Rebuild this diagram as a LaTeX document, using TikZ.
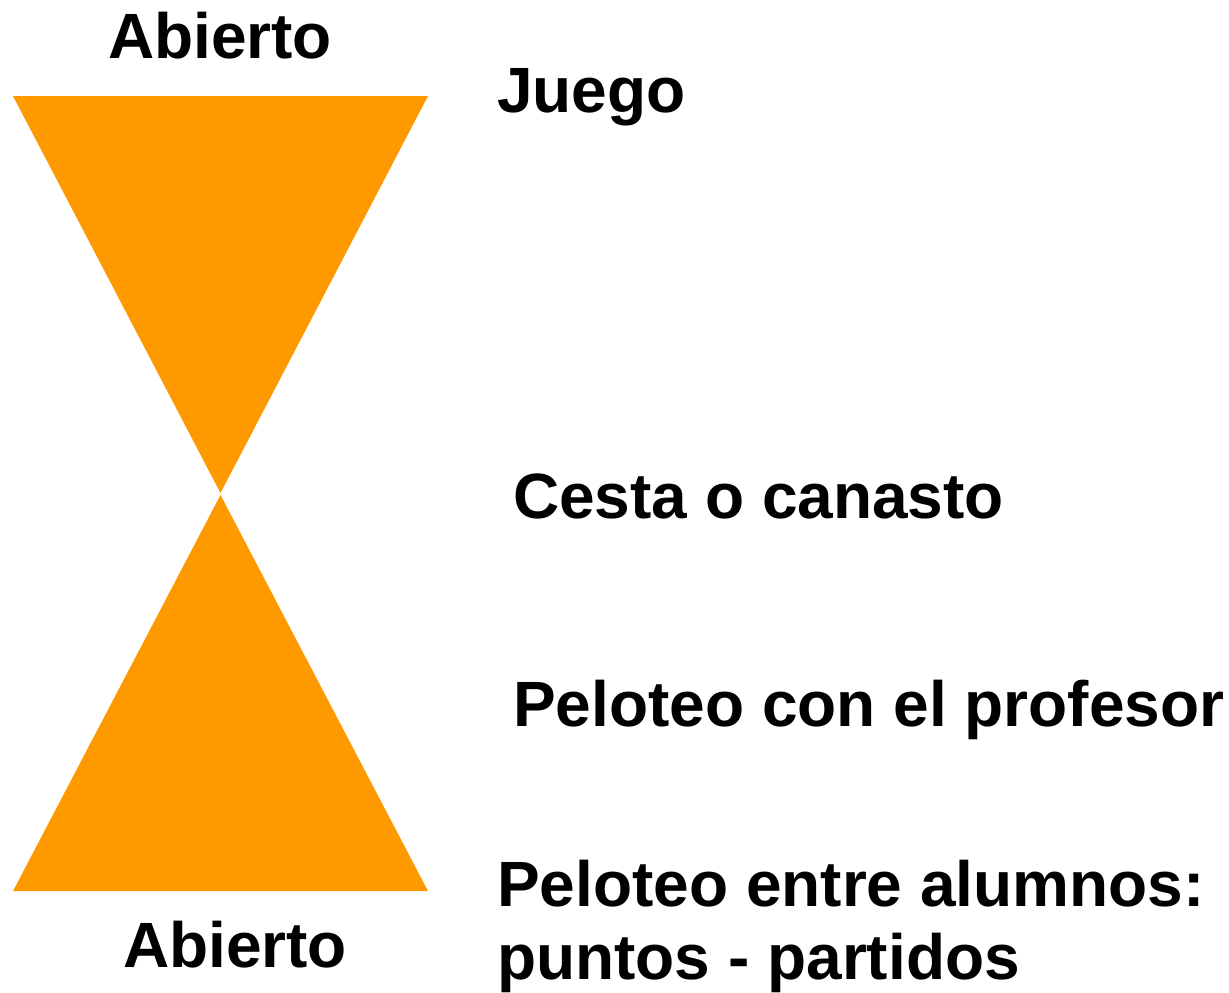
\documentclass[tikz,border=0pt]{standalone}
\usepackage{fontspec}
\setmainfont{Liberation Sans}
\definecolor{cone}{HTML}{FF9900}
\begin{document}
\begin{tikzpicture}[x=1pt,y=-1pt,
  lbl/.style={font=\fontsize{64}{60}\selectfont\bfseries, inner sep=0pt, text=black},
  conefill/.style={fill=cone, draw=none}]
\useasboundingbox (0,0) rectangle (1229,993);
\fill[white] (0,0) rectangle (1229,993);
\coordinate (tl) at (13,96);
\coordinate (tr) at (428,96);
\coordinate (tm) at (220.5,493);
\coordinate (bm) at (220.5,495);
\coordinate (bl) at (13,891);
\coordinate (br) at (428,891);
\path[conefill] (tl) -- (tr) -- (tm) -- cycle;
\path[conefill] (bm) -- (br) -- (bl) -- cycle;
\node[lbl, anchor=base] (ab1) at (220,58) {Abierto};
\node[lbl, anchor=base] (ab2) at (235,967) {Abierto};
\node[lbl, anchor=base west] (juego) at (497,112) {Juego};
\node[lbl, anchor=base west] (cesta) at (513,518) {Cesta o canasto};
\node[lbl, anchor=base west] (prof) at (513,726) {Peloteo con el profesor};
\node[lbl, anchor=base west] (alum1) at (497,906) {Peloteo entre alumnos:};
\node[lbl, anchor=base west] (alum2) at (497,979) {puntos - partidos};
\end{tikzpicture}
\end{document}
